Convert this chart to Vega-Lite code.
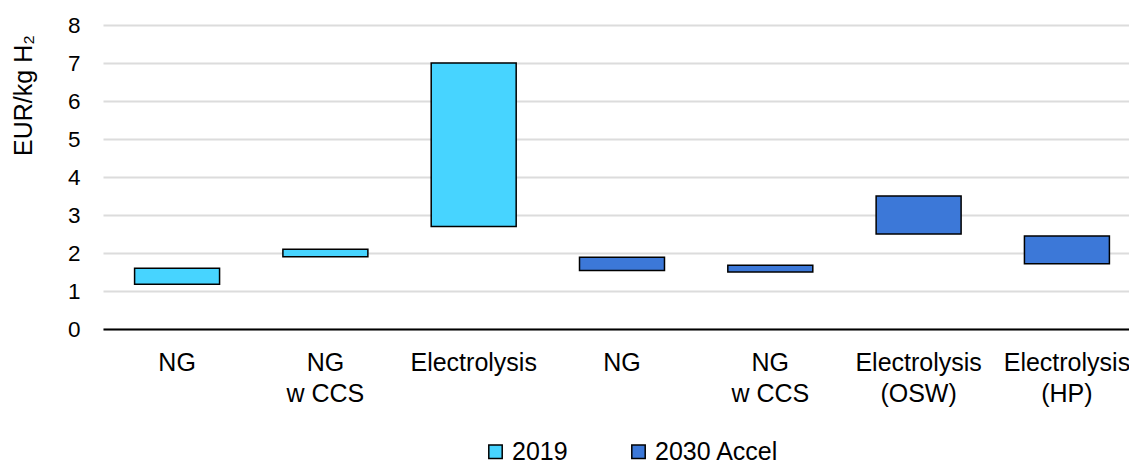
{
  "$schema": "https://vega.github.io/schema/vega-lite/v6.json",
  "width": 1038,
  "height": 304,
  "autosize": {"type": "none"},
  "padding": {"left": 103, "top": 25, "right": 0, "bottom": 140},
  "background": "white",
  "config": {
    "view": {"stroke": null},
    "font": "Liberation Sans",
    "axis": {"labelFont": "Liberation Sans", "titleFont": "Liberation Sans", "labelColor": "#000000", "titleColor": "#000000"},
    "legend": {"labelFont": "Liberation Sans"}
  },
  "data": {
    "values": [
      {"category": "2019|NG", "series": "2019", "low": 1.18, "high": 1.6},
      {"category": "2019|NG|w CCS", "series": "2019", "low": 1.9, "high": 2.1},
      {"category": "2019|Electrolysis", "series": "2019", "low": 2.7, "high": 7.0},
      {"category": "2030|NG", "series": "2030 Accel", "low": 1.54, "high": 1.89},
      {"category": "2030|NG|w CCS", "series": "2030 Accel", "low": 1.5, "high": 1.68},
      {"category": "2030|Electrolysis|(OSW)", "series": "2030 Accel", "low": 2.5, "high": 3.5},
      {"category": "2030|Electrolysis|(HP)", "series": "2030 Accel", "low": 1.72, "high": 2.45}
    ]
  },
  "mark": {"type": "bar", "stroke": "#000000", "strokeWidth": 1.5},
  "encoding": {
    "x": {
      "field": "category",
      "type": "nominal",
      "sort": null,
      "scale": {"paddingInner": 0.427, "paddingOuter": 0.213},
      "axis": {
        "title": null,
        "labelAngle": 0,
        "labelExpr": "slice(split(datum.value, '|'), 1)",
        "labelFontSize": 25,
        "labelLineHeight": 31,
        "labelPadding": 21,
        "labelBaseline": "top",
        "ticks": false,
        "domainColor": "#000000",
        "domainWidth": 2,
        "grid": false
      }
    },
    "y": {
      "field": "low",
      "type": "quantitative",
      "scale": {"domain": [0, 8], "nice": false},
      "axis": {
        "title": "EUR/kg H₂",
        "values": [0, 1, 2, 3, 4, 5, 6, 7, 8],
        "labelFontSize": 22.5,
        "labelPadding": 23,
        "ticks": false,
        "domain": false,
        "gridColor": "#dcdcdc",
        "gridWidth": 2,
        "titleFontSize": 25,
        "titleFontWeight": "normal",
        "titleAngle": -90,
        "titleX": -80,
        "titleY": 70,
        "titleAlign": "center",
        "titleBaseline": "middle"
      }
    },
    "y2": {"field": "high"},
    "fill": {
      "field": "series",
      "type": "nominal",
      "scale": {"domain": ["2019", "2030 Accel"], "range": ["#47D4FF", "#3C78D8"]},
      "legend": {
        "title": null,
        "orient": "none",
        "direction": "horizontal",
        "legendX": 380,
        "legendY": 414,
        "symbolType": "square",
        "symbolSize": 180,
        "symbolStrokeColor": "#000000",
        "symbolStrokeWidth": 1.5,
        "labelFontSize": 25,
        "labelColor": "#000000",
        "columnPadding": 58,
        "labelOffset": 4,
        "padding": 0
      }
    }
  }
}
